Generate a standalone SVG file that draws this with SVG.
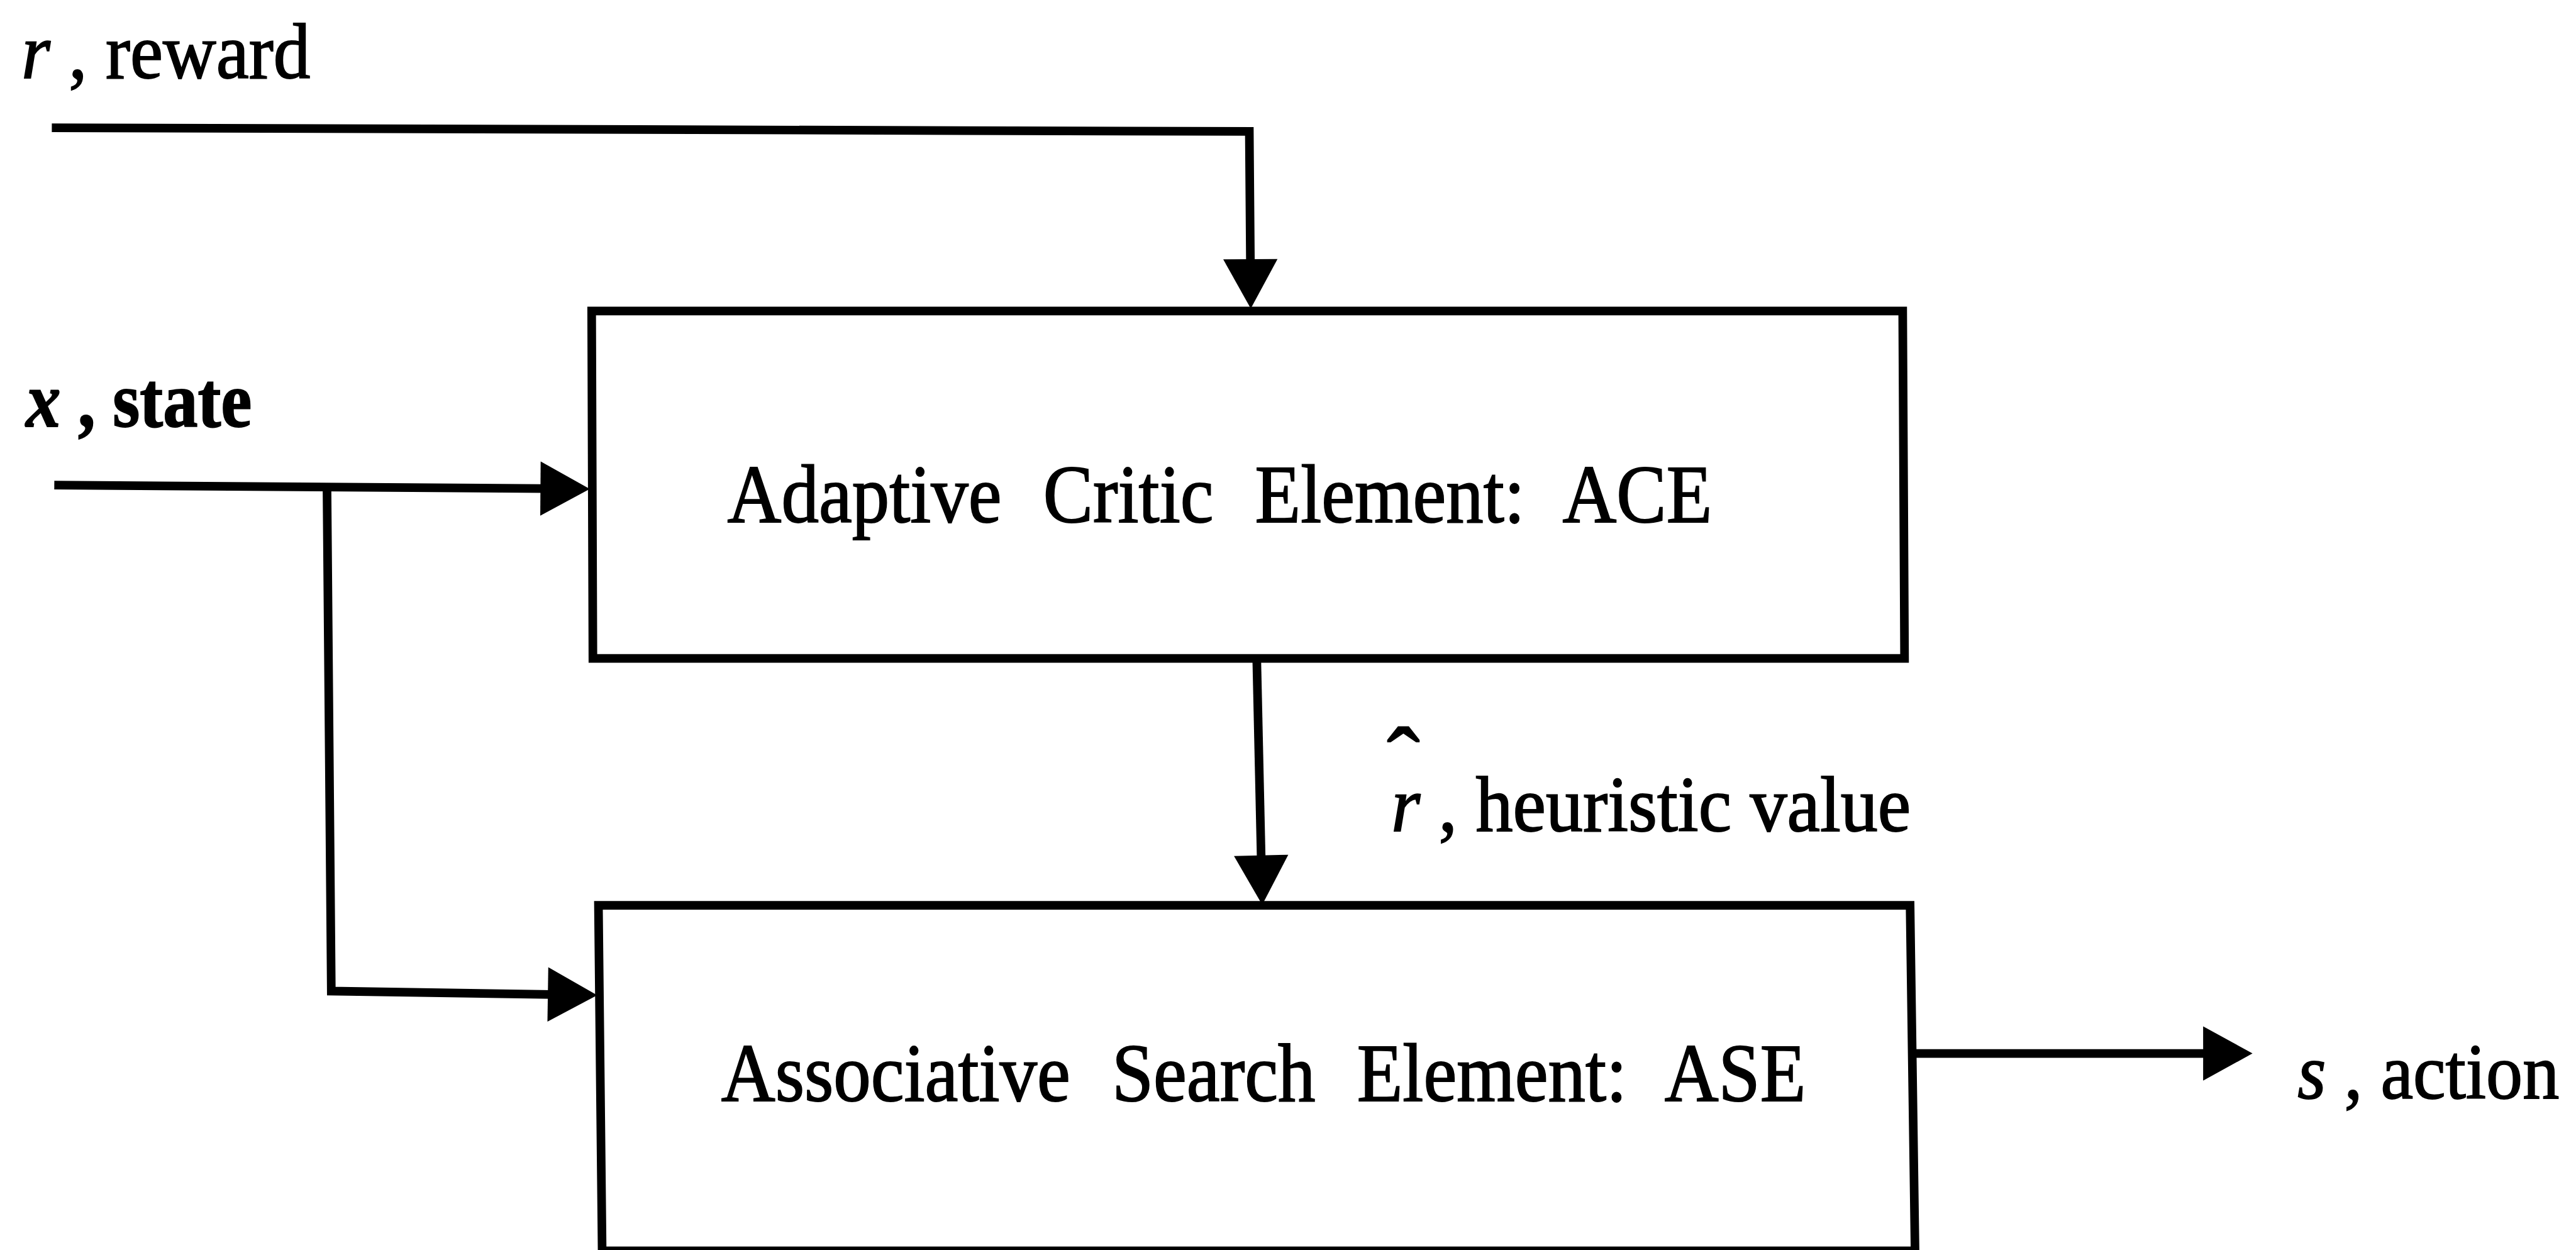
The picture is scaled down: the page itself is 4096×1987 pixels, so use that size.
<svg xmlns="http://www.w3.org/2000/svg" width="4096" height="1987" viewBox="0 0 4096 1987">
  <style>
    .box { fill: none; stroke: #000; stroke-width: 14; stroke-linejoin: miter; }
    .wire { fill: none; stroke: #000; stroke-width: 14; stroke-linejoin: miter; }
    .lbl { font-family: "Liberation Serif", "Times New Roman", serif; font-size: 128px; fill: #000; stroke: #000; stroke-width: 2; }
    .title { font-family: "Liberation Serif", "Times New Roman", serif; font-size: 134px; word-spacing: 41px; fill: #000; stroke: #000; stroke-width: 2; }
    .it { font-style: italic; }
  </style>
  <defs>
    <marker id="head" markerUnits="userSpaceOnUse" viewBox="0 0 80 88" markerWidth="80" markerHeight="88" refX="40" refY="44" orient="auto" overflow="visible">
      <path d="M0,0 L80,44 L0,88 Z" fill="#000"/>
    </marker>
  </defs>
  <rect width="4096" height="1987" fill="#fff"/>
  <g transform="scale(0.981)">
    <!-- signal paths -->
    <g id="connectors">
      <path class="wire" d="M84,207 L2025,213 L2027,460" marker-end="url(#head)"/>
      <path class="wire" d="M88,786 L916,792" marker-end="url(#head)"/>
      <path class="wire" d="M530,789 L537,1606 L928,1612" marker-end="url(#head)"/>
      <path class="wire" d="M2037,1067 L2045,1426" marker-end="url(#head)"/>
      <path class="wire" d="M3097,1707 L3611,1707" marker-end="url(#head)"/>
    </g>

    <!-- critic block -->
    <g id="ace">
      <path class="box" d="M959,504 L3084,504 L3087,1067 L961,1067 Z"/>
      <text class="title" x="1179" y="846" textLength="1596" lengthAdjust="spacingAndGlyphs">Adaptive Critic Element: ACE</text>
    </g>

    <!-- search block (lower edge runs off the page) -->
    <g id="ase">
      <path class="box" d="M970,1467 L3096,1467 L3104,2027 L976,2027 Z"/>
      <text class="title" x="1169" y="1784" textLength="1758" lengthAdjust="spacingAndGlyphs">Associative Search Element: ASE</text>
    </g>

    <!-- signal labels -->
    <g id="reward">
      <text class="lbl" x="35" y="126" textLength="468" lengthAdjust="spacingAndGlyphs"><tspan class="it">r</tspan> , reward</text>
    </g>
    <g id="state">
      <text class="lbl" x="42" y="691" font-weight="bold" textLength="366" lengthAdjust="spacingAndGlyphs"><tspan class="it">x</tspan> , state</text>
    </g>
    <g id="heuristic">
      <text class="lbl"><tspan x="2248" y="1290" font-size="160">ˆ</tspan><tspan x="2255" y="1347" textLength="842" lengthAdjust="spacingAndGlyphs"><tspan class="it">r</tspan> , heuristic value</tspan></text>
    </g>
    <g id="action">
      <text class="lbl" x="3724" y="1780" font-size="118" textLength="424" lengthAdjust="spacingAndGlyphs"><tspan class="it">s</tspan> , action</text>
    </g>
  </g>
</svg>
